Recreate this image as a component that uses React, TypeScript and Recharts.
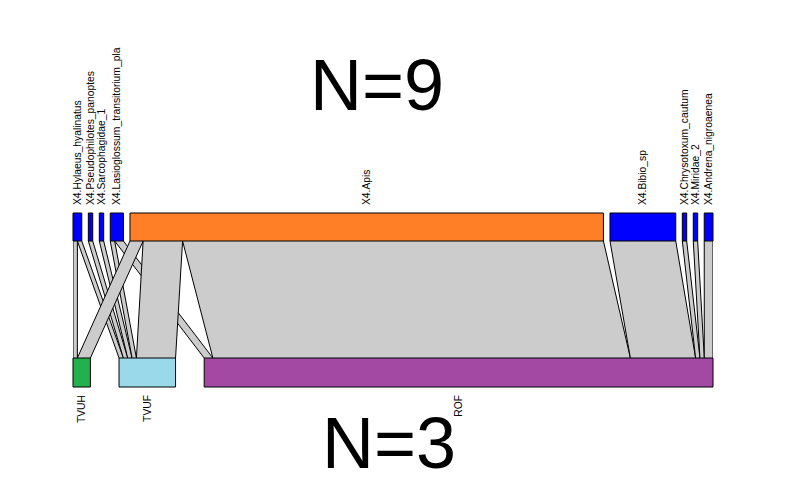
import React from 'react';
import { ComposedChart, Area, XAxis, YAxis, ReferenceArea } from 'recharts';

// ---- data ----
const pollinators = [
  'X4.Hylaeus_hyalinatus',
  'X4.Pseudophilotes_panoptes',
  'X4.Sarcophagidae_1',
  'X4.Lasioglossum_transitorium_pla',
  'X4.Apis',
  'X4.Bibio_sp',
  'X4.Chrysotoxum_cautum',
  'X4.Miridae_2',
  'X4.Andrena_nigroaenea',
];
const plants = ['TVUH', 'TVUF', 'ROF'];
// interactions of each pollinator (same order as above) with each plant
const visitsTVUH = [1, 0, 0, 0, 3, 0, 0, 0, 0];
const visitsTVUF = [1, 1, 1, 1, 9, 0, 0, 0, 0];
const visitsROF = [0, 0, 0, 2, 96, 15, 1, 1, 2];
const pollinatorColors = ['#0000FF', '#0000FF', '#0000FF', '#0000FF', '#FF7F27', '#0000FF', '#0000FF', '#0000FF', '#0000FF'];
const plantColors = ['#22B14C', '#99D9EA', '#A349A4'];
const topTitle = 'N=9';
const bottomTitle = 'N=3';

// ---- layout (style) ----
const TOP_GAP = 1.5;
const BOTTOM_GAP = 6.53;
const Y_TOP_BOX: [number, number] = [0, 28];
const Y_BOTTOM_BOX: [number, number] = [145, 174];
const FONT = "'Liberation Sans', Arial, sans-serif";
const LABEL_SIZE = 10.3;

const web = [visitsTVUH, visitsTVUF, visitsROF];
const topTotals = pollinators.map((_, i) => web.reduce((s, row) => s + row[i], 0));
const bottomTotals = web.map((row) => row.reduce((a, b) => a + b, 0));
const grand = topTotals.reduce((a, b) => a + b, 0);
const W = grand + TOP_GAP * (pollinators.length - 1);
const sB = (W - BOTTOM_GAP * (plants.length - 1)) / grand;

const topStarts: number[] = [];
{
  let acc = 0;
  topTotals.forEach((t) => {
    topStarts.push(acc);
    acc += t + TOP_GAP;
  });
}
const bottomStarts: number[] = [];
{
  let acc = 0;
  bottomTotals.forEach((t) => {
    bottomStarts.push(acc);
    acc += t * sB + BOTTOM_GAP;
  });
}

type Link = { key: string; top: [number, number]; bottom: [number, number] };
const links: Link[] = [];
pollinators.forEach((_, i) => {
  let topAcc = topStarts[i];
  plants.forEach((__, p) => {
    const v = web[p][i];
    if (v > 0) {
      const before = web[p].slice(0, i).reduce((a, b) => a + b, 0);
      const b0 = bottomStarts[p] + before * sB;
      links.push({
        key: `link${links.length}`,
        top: [topAcc, topAcc + v],
        bottom: [b0, b0 + v * sB],
      });
    }
    topAcc += v;
  });
});

const row0: Record<string, any> = { y: Y_TOP_BOX[1] };
const row1: Record<string, any> = { y: Y_BOTTOM_BOX[0] };
links.forEach((l) => {
  row0[l.key] = l.top;
  row1[l.key] = l.bottom;
});
const rows = [row0, row1];

const topLabel = (text: string) => (props: any) => {
  const vb = props.viewBox || {};
  const cx = vb.x + vb.width / 2;
  const y = vb.y - 8;
  return (
    <text
      x={cx}
      y={y}
      transform={`rotate(-90 ${cx} ${y})`}
      textAnchor="start"
      dominantBaseline="central"
      fontSize={LABEL_SIZE}
      fontFamily={FONT}
      fill="#000"
    >
      {text}
    </text>
  );
};

const bottomLabel = (text: string) => (props: any) => {
  const vb = props.viewBox || {};
  const cx = vb.x + vb.width / 2;
  const y = vb.y + vb.height + 8;
  return (
    <text
      x={cx}
      y={y}
      transform={`rotate(-90 ${cx} ${y})`}
      textAnchor="end"
      dominantBaseline="central"
      fontSize={LABEL_SIZE}
      fontFamily={FONT}
      fill="#000"
    >
      {text}
    </text>
  );
};

export default function App() {
  return (
    <div style={{ position: 'absolute', left: 0, top: 0, width: 794, height: 484, background: '#fff' }}>
      <ComposedChart
        layout="vertical"
        width={794}
        height={484}
        data={rows}
        margin={{ top: 213, right: 81, bottom: 97, left: 73 }}
      >
        <XAxis type="number" domain={[0, W]} hide allowDataOverflow />
        <YAxis type="number" dataKey="y" domain={[Y_TOP_BOX[0], Y_BOTTOM_BOX[1]]} hide allowDataOverflow />
        {links.map((l) => (
          <Area
            key={l.key}
            dataKey={l.key}
            type="linear"
            fill="#CCCCCC"
            fillOpacity={1}
            stroke="#000000"
            strokeWidth={1}
            dot={false}
            activeDot={false}
            isAnimationActive={false}
          />
        ))}
        {pollinators.map((name, i) => (
          <ReferenceArea
            key={name}
            x1={topStarts[i]}
            x2={topStarts[i] + topTotals[i]}
            y1={Y_TOP_BOX[0]}
            y2={Y_TOP_BOX[1]}
            fill={pollinatorColors[i]}
            fillOpacity={1}
            stroke="#000000"
            strokeWidth={1}
            ifOverflow="visible"
            label={topLabel(name)}
          />
        ))}
        {plants.map((name, p) => (
          <ReferenceArea
            key={name}
            x1={bottomStarts[p]}
            x2={bottomStarts[p] + bottomTotals[p] * sB}
            y1={Y_BOTTOM_BOX[0]}
            y2={Y_BOTTOM_BOX[1]}
            fill={plantColors[p]}
            fillOpacity={1}
            stroke="#000000"
            strokeWidth={1}
            ifOverflow="visible"
            label={bottomLabel(name)}
          />
        ))}
      </ComposedChart>
      <svg width={794} height={484} style={{ position: 'absolute', left: 0, top: 0, pointerEvents: 'none' }}>
        <text x={377} y={110} textAnchor="middle" fontSize={72} fontFamily={FONT} fill="#000">
          {topTitle}
        </text>
        <text x={389} y={468} textAnchor="middle" fontSize={72} fontFamily={FONT} fill="#000">
          {bottomTitle}
        </text>
      </svg>
    </div>
  );
}
